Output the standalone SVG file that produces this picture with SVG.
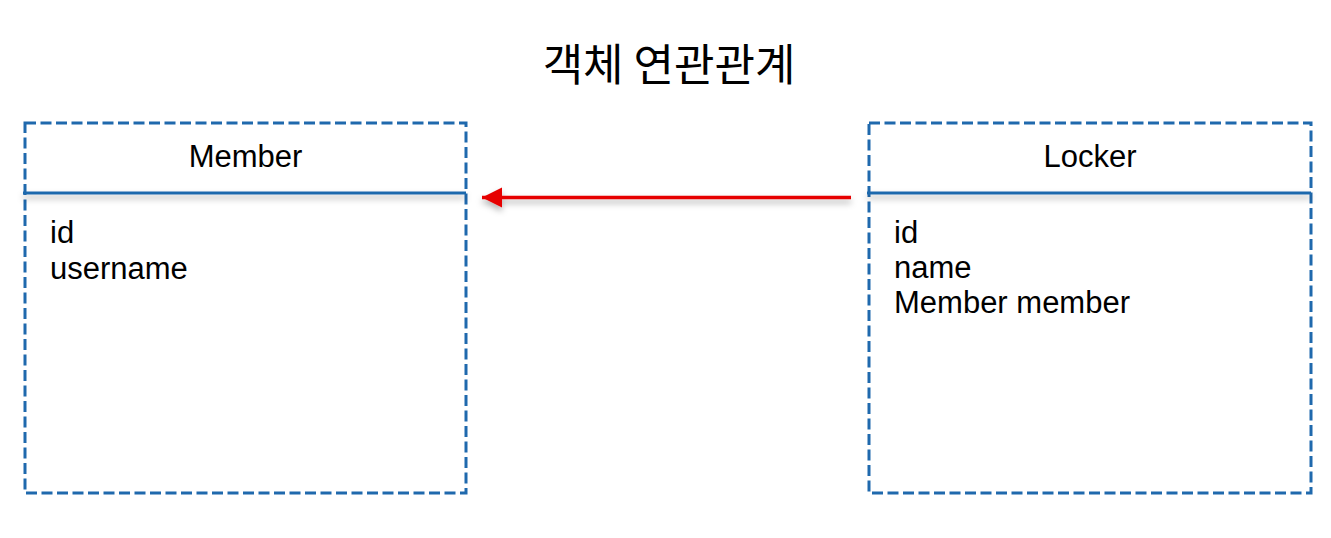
<svg xmlns="http://www.w3.org/2000/svg" width="1331" height="538" viewBox="0 0 1331 538">
<style>
.box{fill:none;stroke:#1f69ad;stroke-width:3;stroke-dasharray:11 4.5}
.div{stroke:#1f69ad;stroke-width:3}
.t{font-family:"Liberation Sans",Arial,sans-serif;font-size:31px;fill:#000}
.title{font-family:"Noto Sans CJK KR","Liberation Sans",sans-serif;font-size:44px;font-weight:400;fill:#000}
</style>
<defs>
<filter id="sh" filterUnits="userSpaceOnUse" x="0" y="0" width="1331" height="538">
<feDropShadow dx="0" dy="4" stdDeviation="3" flood-color="#000" flood-opacity="0.3"/>
</filter>
<marker id="ah" markerWidth="22" markerHeight="22" refX="20" refY="10" orient="auto" markerUnits="userSpaceOnUse">
<path d="M0,0 L20,10 L0,20 Z" fill="#e60000"/>
</marker>
</defs>
<text class="title" x="669" y="81" text-anchor="middle">객체 연관관계</text>
<g id="member">
<rect class="box" x="25" y="123" width="441" height="370"/>
<line class="div" x1="23" y1="193" x2="466" y2="193" filter="url(#sh)"/>
<text class="t" x="245.5" y="167" text-anchor="middle">Member</text>
<text class="t" x="50" y="243">id</text>
<text class="t" x="50" y="279">username</text>
</g>
<g id="locker">
<rect class="box" x="869" y="123" width="442" height="370"/>
<line class="div" x1="867" y1="193" x2="1311" y2="193" filter="url(#sh)"/>
<text class="t" x="1090" y="167" text-anchor="middle">Locker</text>
<text class="t" x="894" y="243">id</text>
<text class="t" x="894" y="278">name</text>
<text class="t" x="894" y="313">Member member</text>
</g>
<g id="connectors">
<line x1="851" y1="197.5" x2="482" y2="197.5" stroke="#e60000" stroke-width="3.5" marker-end="url(#ah)" filter="url(#sh)"/>
</g>
</svg>
